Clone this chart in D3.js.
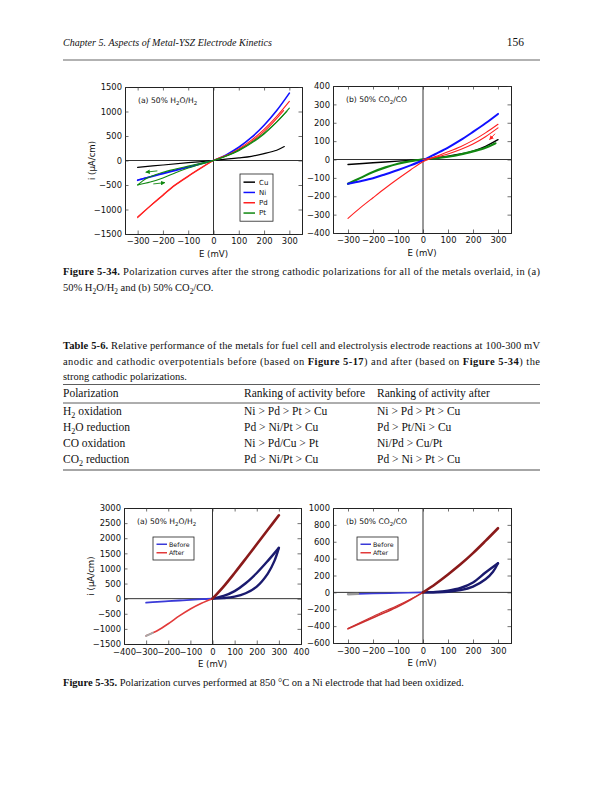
<!DOCTYPE html>
<html><head><meta charset="utf-8">
<script src="https://cdn.jsdelivr.net/npm/d3@7"></script>
<style>
body{margin:0;background:#fff}
svg text{font-family:"DejaVu Sans",sans-serif;fill:#111}
svg text.serif{font-family:"Liberation Serif",serif}
</style></head><body>
<script>
// tick values
const xTicks300 = [-300,-200,-100,0,100,200,300]
const xTicks400 = [-400,-300,-200,-100,0,100,200,300,400]
const yTicks1a = [-1500,-1000,-500,0,500,1000,1500]
const yTicks1b = [-400,-300,-200,-100,0,100,200,300,400]
const yTicks2a = [-1500,-1000,-500,0,500,1000,1500,2000,2500,3000]
const yTicks2b = [-600,-400,-200,0,200,400,600,800,1000]

// Figure 5-34 (a) 50% H2O/H2, E (mV) vs i
const metals = ['Cu','Ni','Pd','Pt']
const cuA = [[-300,-140],[-200,-92],[-100,-45],[0,0],[100,52],[150,85],[200,140],[250,210],[280,285]]
const niA = [[-300,-405],[-250,-335],[-200,-268],[-150,-202],[-100,-136],[-50,-68],[0,0],[50,115],[100,270],[150,470],[200,720],[250,1020],[300,1375]]
const niA2 = [[-300,-395],[-200,-258],[-100,-128],[0,0]]
const pdA = [[-300,-1165],[-250,-930],[-200,-715],[-160,-535],[-140,-465],[-100,-325],[-50,-160],[0,0],[50,95],[100,235],[150,415],[200,635],[250,900],[300,1205]]
const pdA2 = [[-300,-1150],[-200,-700],[-150,-490],[-100,-315],[0,0],[100,215],[200,595],[277,1020]]
const ptA = [[-300,-500],[-280,-415],[-260,-350],[-230,-290],[-200,-240],[-150,-175],[-100,-115],[-50,-55],[0,0],[50,90],[100,215],[150,370],[200,560],[250,790],[300,1070]]
const ptA2 = [[-300,-500],[-250,-440],[-200,-355],[-150,-250],[-100,-155],[-50,-75],[0,0],[100,200],[200,540],[290,1000]]
const arrowsA = [[[-222,-212],[-268,-238]],[[-238,-478],[-192,-452]]]

// Figure 5-34 (b) 50% CO2/CO
const cuB = [[-300,-27],[-200,-18],[-100,-9],[0,0],[100,18],[150,30],[200,46],[250,72],[300,108]]
const niB = [[-300,-132],[-250,-118],[-200,-102],[-150,-80],[-100,-57],[-50,-32],[0,-4],[50,30],[100,65],[150,105],[200,150],[250,197],[300,248]]
const pdB = [[-300,-320],[-250,-262],[-200,-208],[-150,-155],[-100,-105],[-50,-57],[0,-12],[50,16],[100,42],[150,70],[200,104],[250,145],[300,192]]
const pdB2 = [[300,172],[250,124],[200,84],[150,54],[100,30],[50,12],[0,0]]
const ptB = [[-300,-132],[-250,-100],[-200,-68],[-150,-43],[-100,-23],[-50,-9],[0,0],[50,7],[100,15],[150,27],[200,44],[250,64],[290,88]]
const arrowsB = [[[288,140],[266,108]]]

// Figure 5-35 (a) Ni electrode before / after, 50% H2O/H2
const phases = ['Before','After']
const beforeNegA = [[-300,-130],[-250,-106],[-200,-82],[-150,-60],[-100,-39],[-50,-18],[0,0]]
const beforeUpA = [[0,0],[50,90],[100,250],[150,510],[200,850],[250,1250],[300,1680]]
const beforeLowA = [[300,1680],[280,1250],[250,830],[200,400],[150,180],[100,65],[50,18],[0,0]]
const afterA = [[-300,-1230],[-270,-1130],[-250,-1060],[-200,-830],[-150,-570],[-100,-340],[-50,-150],[0,0],[50,400],[100,850],[150,1320],[200,1800],[250,2280],[300,2760]]

// Figure 5-35 (b) 50% CO2/CO
const beforeNegB = [[-300,-22],[-260,-18],[-200,-14],[-100,-8],[0,0]]
const beforeUpB = [[0,0],[50,5],[100,20],[150,52],[200,118],[250,235],[300,345]]
const beforeLowB = [[300,345],[280,245],[250,155],[200,68],[150,26],[100,8],[0,0]]
const afterB = [[-300,-432],[-250,-366],[-200,-300],[-150,-236],[-100,-168],[-50,-88],[0,0],[50,100],[100,212],[150,332],[200,465],[250,610],[300,760]]
const afterB2 = [[-300,-428],[-200,-286],[-100,-152],[-50,-80],[0,0]]

const tableHead = ['Polarization','Ranking of activity before','Ranking of activity after']
const tableRows = [
  [[['H'],['2','sub'],[' oxidation']],'Ni > Pd > Pt > Cu','Ni > Pd > Pt > Cu'],
  [[['H'],['2','sub'],['O reduction']],'Pd > Ni/Pt > Cu','Pd > Pt/Ni > Cu'],
  [[['CO oxidation']],'Ni > Pd/Cu > Pt','Ni/Pd > Cu/Pt'],
  [[['CO'],['2','sub'],[' reduction']],'Pd > Ni/Pt > Cu','Pd > Ni > Pt > Cu']
]

const svg = d3.select('body').append('svg').attr('width',612).attr('height',792)

svg.append('defs').append('marker').attr('id','arr').attr('viewBox','0 0 10 10')
  .attr('refX',9).attr('refY',5).attr('markerWidth',5).attr('markerHeight',5).attr('orient','auto')
  .append('path').attr('d','M0,0L10,5L0,10z').attr('fill','context-stroke')

let clipN = 0
function panel(box, xDom, yDom, xt, yt, title, yLabel, xPad) {
  const x = d3.scaleLinear().domain(xDom).range([box.x0, box.x1])
  const y = d3.scaleLinear().domain(yDom).range([box.y1, box.y0])
  const g = svg.append('g')
  const id = 'c' + (clipN++)
  g.append('clipPath').attr('id', id).append('rect')
    .attr('x', box.x0).attr('y', box.y0).attr('width', box.x1-box.x0).attr('height', box.y1-box.y0)
  g.append('line').attr('x1',x(0)).attr('x2',x(0)).attr('y1',box.y0).attr('y2',box.y1).attr('stroke','#333').attr('stroke-width',1)
  g.append('line').attr('x1',box.x0).attr('x2',box.x1).attr('y1',y(0)).attr('y2',y(0)).attr('stroke','#333').attr('stroke-width',1)
  const plot = g.append('g').attr('clip-path','url(#'+id+')')
  const fmt = d => d < 0 ? '\u2212' + Math.abs(d) : String(d)
  const ax = (a) => a.attr('font-family','DejaVu Sans').attr('font-size',8.4)
  g.append('g').attr('transform','translate(0,'+box.y1+')')
    .call(d3.axisBottom(x).tickValues(xt).tickSize(-3.5).tickPadding(xPad || 4).tickFormat(fmt)).call(ax)
  g.append('g').attr('transform','translate(0,'+box.y0+')')
    .call(d3.axisTop(x).tickValues(xt).tickSize(-3.5).tickFormat('')).call(ax)
  g.append('g').attr('transform','translate('+box.x0+',0)')
    .call(d3.axisLeft(y).tickValues(yt).tickSize(-3.5).tickPadding(3).tickFormat(fmt)).call(ax)
  g.append('g').attr('transform','translate('+box.x1+',0)')
    .call(d3.axisRight(y).tickValues(yt).tickSize(-3.5).tickFormat('')).call(ax)
  g.selectAll('.domain').attr('stroke','#222')
  g.selectAll('.tick line').attr('stroke','#333').attr('stroke-width',0.7)
  g.selectAll('.tick text').attr('fill','#111')
  g.append('text').attr('x',(box.x0+box.x1)/2).attr('y',box.y1+23).attr('text-anchor','middle')
    .attr('font-size',8.6).text('E (mV)')
  if (yLabel) {
    g.append('text').attr('transform','translate('+(box.x0-30)+','+((box.y0+box.y1)/2)+') rotate(-90)')
      .attr('text-anchor','middle').attr('font-size',8.6).text('i (\u03bcA/cm)')
  }
  const t = g.append('text').attr('x',box.x0+13).attr('y',box.y0+16).attr('font-size',7.6)
  title.forEach(p => {
    const s = t.append('tspan').text(p[0])
    if (p[1]==='sub') s.attr('font-size',5.5).attr('dy',2)
    else if (p[1]==='after') s.attr('dy',-2)
  })
  const line = d3.line().x(d=>x(d[0])).y(d=>y(d[1])).curve(d3.curveCatmullRom.alpha(0.5))
  const draw = (data, col, w) => plot.append('path').attr('d', line(data)).attr('fill','none')
    .attr('stroke', col).attr('stroke-width', w).attr('stroke-linejoin','round').attr('stroke-linecap','round')
  const arrow = (a, col) => plot.append('line').attr('x1',x(a[0][0])).attr('y1',y(a[0][1]))
    .attr('x2',x(a[1][0])).attr('y2',y(a[1][1])).attr('stroke',col).attr('stroke-width',0.9).attr('marker-end','url(#arr)')
  return {g, x, y, draw, arrow}
}

function legend(x0, y0, w, rowH, names, cols, size, lineW, textX) {
  const g = svg.append('g')
  g.append('rect').attr('x',x0).attr('y',y0).attr('width',w).attr('height',rowH*names.length+6)
    .attr('fill','#fff').attr('stroke','#222').attr('stroke-width',0.8)
  names.forEach((n,i) => {
    const yy = y0 + 3 + rowH*(i+0.5)
    g.append('line').attr('x1',x0+3.5).attr('x2',x0+3.5+lineW).attr('y1',yy).attr('y2',yy).attr('stroke',cols[i]).attr('stroke-width',1.5)
    g.append('text').attr('x',x0+textX).attr('y',yy+2.4).attr('font-size',size).text(n)
  })
}

const subTitleH = [['(a) 50% H'],['2','sub'],['O/H','after'],['2','sub']]
const subTitleC = [['(b) 50% CO'],['2','sub'],['/CO','after']]

// Figure 5-34
const metalCol = {Cu:'#000000', Ni:'#1010ff', Pd:'#ff2020', Pt:'#118811'}
const pa = panel({x0:125,x1:302,y0:87,y1:234}, [-350,350], [-1500,1500], xTicks300, yTicks1a, subTitleH, true)
pa.draw(cuA, metalCol.Cu, 1.2)
pa.draw(niA, metalCol.Ni, 1.6); pa.draw(niA2, metalCol.Ni, 1)
pa.draw(pdA, metalCol.Pd, 1.1); pa.draw(pdA2, metalCol.Pd, 1.1)
pa.draw(ptA, metalCol.Pt, 1.1); pa.draw(ptA2, metalCol.Pt, 1.1)
arrowsA.forEach(a => pa.arrow(a, metalCol.Pt))
legend(240, 174, 33, 10.3, metals, metals.map(m=>metalCol[m]), 7, 11.5, 19)

const pb = panel({x0:333,x1:511,y0:86,y1:233}, [-360,352], [-400,400], xTicks300, yTicks1b, subTitleC, false)
pb.draw(cuB, metalCol.Cu, 1.4)
pb.draw(ptB, metalCol.Pt, 2.2)
pb.draw(niB, metalCol.Ni, 2)
pb.draw(pdB, metalCol.Pd, 1.1); pb.draw(pdB2, metalCol.Pd, 1.1)
arrowsB.forEach(a => pb.arrow(a, metalCol.Pd))

// Figure 5-35
const phaseCol = ['#3a3ad8','#e23a3a']
const darkBlue = '#1a1a6e', darkRed = '#8a1a1a'
const pc = panel({x0:124,x1:301,y0:508,y1:644}, [-400,400], [-1500,3000], xTicks400, yTicks2a, subTitleH, true, 5.5)
pc.draw(beforeNegA, phaseCol[0], 1.8)
pc.draw(beforeUpA, darkBlue, 2.4); pc.draw(beforeLowA, darkBlue, 2.4)
pc.draw(afterA.filter(d=>d[0]<=0), phaseCol[1], 1.6)
pc.draw(afterA.filter(d=>d[0]>=0), darkRed, 2.6)
pc.draw(afterA.filter(d=>d[0]<=-270), '#a8a8a8', 2)
legend(153, 537, 41, 8.5, phases, phaseCol, 6.3, 10.5, 16)

const pd = panel({x0:333,x1:511,y0:508,y1:643}, [-360,352], [-600,1000], xTicks300, yTicks2b, subTitleC, false, 5.5)
pd.draw(beforeNegB, phaseCol[0], 1.6)
pd.draw(beforeNegB.filter(d=>d[0]<=-260), '#999', 2.4)
pd.draw(beforeUpB, darkBlue, 2.4); pd.draw(beforeLowB, darkBlue, 2.4)
pd.draw(afterB.filter(d=>d[0]<=0), '#cc3030', 1.6); pd.draw(afterB2, '#cc3030', 1.1)
pd.draw(afterB.filter(d=>d[0]>=0), darkRed, 2.6)
legend(357, 537, 41, 8.5, phases, phaseCol, 6.3, 10.5, 16)

// page text
function textLine(x, y, parts, size, len, anchor) {
  const t = svg.append('text').attr('class','serif').attr('x',x).attr('y',y).attr('font-size',size)
  if (len) t.attr('textLength',len).attr('lengthAdjust','spacing')
  if (anchor) t.attr('text-anchor',anchor)
  let down = false
  parts.forEach(p => {
    const s = t.append('tspan').text(p[0])
    if (p[1]==='b') s.attr('font-weight','bold')
    if (p[1]==='i') s.attr('font-style','italic')
    if (p[1]==='sub') { s.attr('font-size',size*0.7).attr('dy',2.5); down = true }
    else if (down) { s.attr('dy',-2.5); down = false }
  })
  return t
}

textLine(63, 46, [['Chapter 5. Aspects of Metal-YSZ Electrode Kinetics','i']], 10, 209)
textLine(524, 46, [['156']], 11.5, null, 'end')
svg.append('line').attr('x1',63).attr('x2',540).attr('y1',60).attr('y2',60).attr('stroke','#999').attr('stroke-width',1.5)

textLine(63, 275, [['Figure 5-34.','b'],[' Polarization curves after the strong cathodic polarizations for all of the metals overlaid, in (a)']], 10.5, 477)
textLine(63, 291, [['50% H'],['2','sub'],['O/H'],['2','sub'],[' and (b) 50% CO'],['2','sub'],['/CO.']], 10.5)

textLine(63, 349, [['Table 5-6.','b'],[' Relative performance of the metals for fuel cell and electrolysis electrode reactions at 100-300 mV']], 10.5, 477)
textLine(63, 365, [['anodic and cathodic overpotentials before (based on '],['Figure 5-17','b'],[') and after (based on '],['Figure 5-34','b'],[') the']], 10.5, 477)
textLine(63, 380, [['strong cathodic polarizations.']], 10.5)

const colX = [63, 244, 377]
svg.append('line').attr('x1',63).attr('x2',540).attr('y1',384.5).attr('y2',384.5).attr('stroke','#333').attr('stroke-width',0.8)
tableHead.forEach((h,i) => textLine(colX[i], 397, [[h]], 11.5))
svg.append('line').attr('x1',63).attr('x2',540).attr('y1',403).attr('y2',403).attr('stroke','#333').attr('stroke-width',0.8)
tableRows.forEach((r,j) => {
  const yy = 415 + j*16
  textLine(colX[0], yy, r[0], 11.5)
  textLine(colX[1], yy, [[r[1]]], 11.5)
  textLine(colX[2], yy, [[r[2]]], 11.5)
})
svg.append('line').attr('x1',63).attr('x2',540).attr('y1',470).attr('y2',470).attr('stroke','#888').attr('stroke-width',1.5)

textLine(63, 686, [['Figure 5-35.','b'],[' Polarization curves performed at 850 \u00b0C on a Ni electrode that had been oxidized.']], 10.5)
</script>
</body></html>
